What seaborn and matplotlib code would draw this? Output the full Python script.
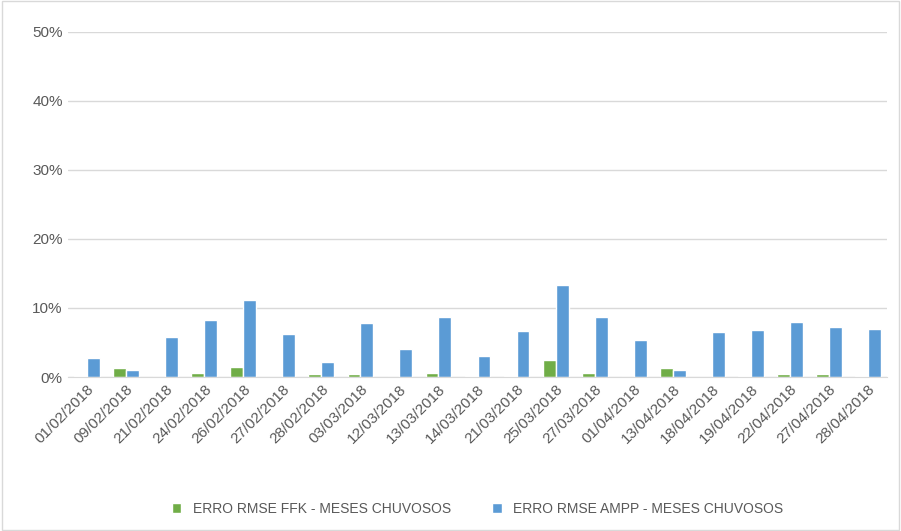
import matplotlib.pyplot as plt
import pandas as pd
import seaborn as sns
from matplotlib.ticker import PercentFormatter

dates = ["01/02/2018", "09/02/2018", "21/02/2018", "24/02/2018", "26/02/2018",
         "27/02/2018", "28/02/2018", "03/03/2018", "12/03/2018", "13/03/2018",
         "14/03/2018", "21/03/2018", "25/03/2018", "27/03/2018", "01/04/2018",
         "13/04/2018", "18/04/2018", "19/04/2018", "22/04/2018", "27/04/2018",
         "28/04/2018"]
ffk = [0.2, 1.3, 0.0, 0.6, 1.5, 0.0, 0.5, 0.5, 0.0, 0.6, 0.2,
       0.2, 2.4, 0.6, 0.0, 1.3, 0.0, 0.2, 0.5, 0.4, 0.2]
ampp = [2.7, 1.0, 5.8, 8.2, 11.2, 6.2, 2.2, 7.8, 4.1, 8.7, 3.1,
        6.6, 13.3, 8.7, 5.3, 1.0, 6.5, 6.8, 7.9, 7.2, 7.0]
s1 = "ERRO RMSE FFK - MESES CHUVOSOS"
s2 = "ERRO RMSE AMPP - MESES CHUVOSOS"

df = pd.DataFrame({"data": dates * 2, "valor": ffk + ampp,
                   "serie": [s1] * len(dates) + [s2] * len(dates)})

sns.set_style("white")
plt.rcParams["font.family"] = ["Liberation Sans", "DejaVu Sans"]
fig, ax = plt.subplots(figsize=(9.01, 5.31), dpi=100)
fig.subplots_adjust(left=0.075, right=0.985, top=0.94, bottom=0.29)

sns.barplot(data=df, x="data", y="valor", hue="serie", ax=ax,
            palette=["#70AD47", "#5B9BD5"], width=0.66, saturation=1)

ax.set_ylim(0, 50)
ax.set_yticks(range(0, 51, 10))
ax.yaxis.set_major_formatter(PercentFormatter(decimals=0))
ax.grid(axis="y", color="#d9d9d9", linewidth=1)
ax.set_axisbelow(True)
ax.set_xlabel("")
ax.set_ylabel("")
for sp in ["top", "right", "left"]:
    ax.spines[sp].set_visible(False)
ax.spines["bottom"].set_color("#d9d9d9")
ax.tick_params(axis="x", labelrotation=45, labelsize=11, colors="#595959", length=0)
ax.tick_params(axis="y", labelsize=11, colors="#595959", length=0)
for lab in ax.get_xticklabels():
    lab.set_ha("right")
    lab.set_rotation_mode("anchor")

ax.legend(loc="upper center", bbox_to_anchor=(0.5, -0.325), ncol=2, frameon=False,
          fontsize=10, labelcolor="#595959", handlelength=0.7, handleheight=0.7,
          columnspacing=3)

fig.patches.append(plt.Rectangle((0.002, 0.002), 0.996, 0.996, transform=fig.transFigure,
                                 fill=False, edgecolor="#d9d9d9", linewidth=1))
fig.savefig("out.png")
